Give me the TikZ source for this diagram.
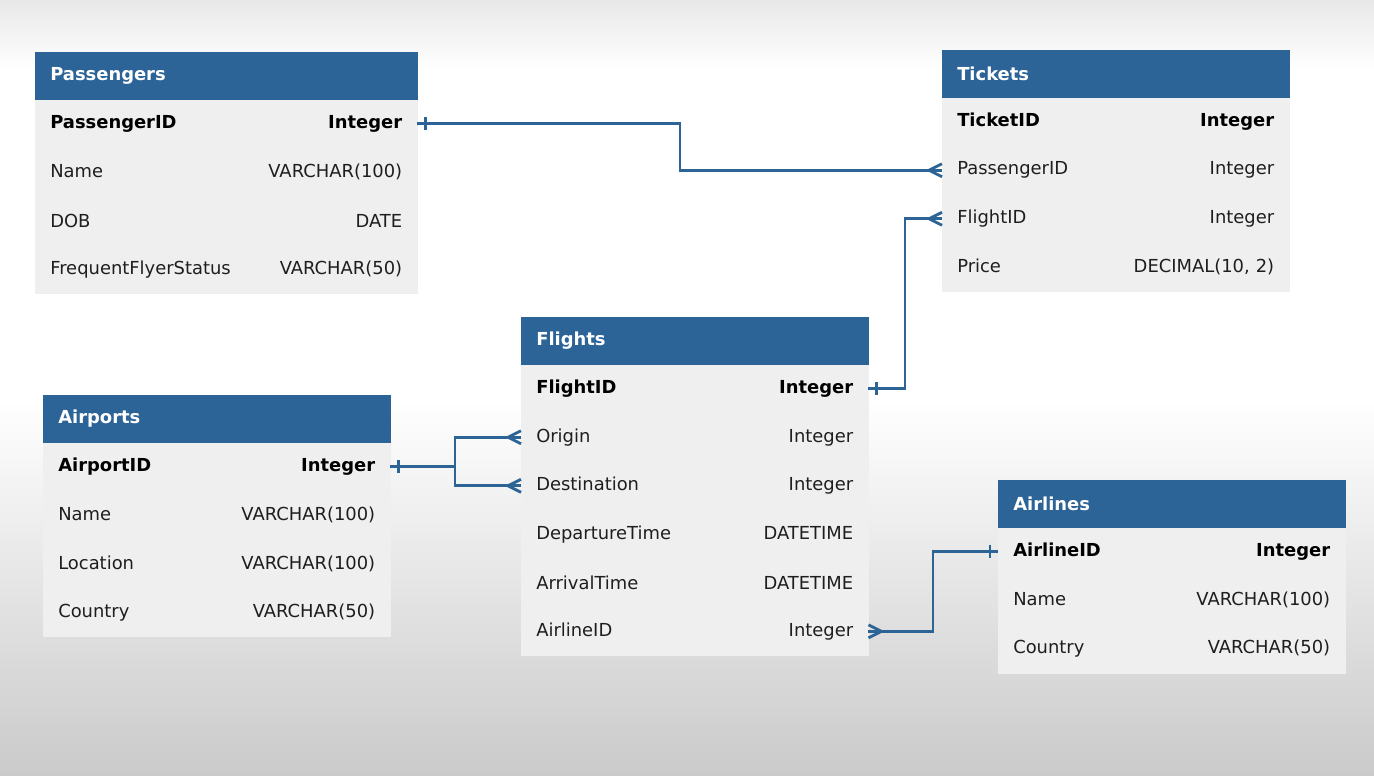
\documentclass[tikz,border=0pt]{standalone}
\usepackage{fontspec}
\setmainfont{DejaVu Sans}
\usetikzlibrary{positioning}
\definecolor{headblue}{HTML}{2D6497}
\definecolor{rowgray}{HTML}{EFEFEF}
\definecolor{linkblue}{HTML}{2C6495}
\definecolor{bgtop}{HTML}{E8E8E8}
\definecolor{bgbot}{HTML}{CACACA}
\definecolor{txt}{HTML}{1E1E1E}
\newcommand{\fld}[2]{\makebox[\linewidth]{#1\hfill#2}}
\newcommand{\keyfld}[2]{\makebox[\linewidth]{\bfseries\color{black}#1\hfill#2}}
%relationship ends: one (bar) and many (crow's foot)
\newcommand{\onemark}[2]{\draw[link] ([xshift=#2,yshift=0.13cm]#1) -- ([xshift=#2,yshift=-0.13cm]#1);}
\newcommand{\manymark}[2]{\draw[link] ([xshift=#2]#1) -- ([yshift=0.13cm]#1) ([xshift=#2]#1) -- ([yshift=-0.13cm]#1);}
\tikzset{
  tabhead/.style={fill=headblue, draw=headblue, line width=0.3pt, text=white, font=\fontsize{10.2}{12}\selectfont\bfseries,
    text width=#1, align=left, inner xsep=0.3cm, inner ysep=0pt, minimum height=0.94cm},
  tabrow/.style={fill=rowgray, draw=rowgray, line width=0.3pt, text=txt, font=\fontsize{10.2}{12}\selectfont,
    text width=#1, align=left, inner xsep=0.3cm, inner ysep=0pt, minimum height=0.96cm},
  link/.style={draw=linkblue, line width=1.6pt}
}

\begin{document}
\begin{tikzpicture}[x=0.02cm,y=-0.02cm]
    \fill[white] (0,0) rectangle (1374,776);
    \shade[top color=bgtop, bottom color=white] (0,0) rectangle (1374,70);
    \shade[top color=white, bottom color=bgbot] (0,400) rectangle (1374,776);
    % Passengers
    \node[tabhead=7.04cm, anchor=north west] (pass) at (35,52) {Passengers};
    \node[tabrow=7.04cm, below=0pt of pass] (pass-id) {\keyfld{PassengerID}{Integer}};
    \node[tabrow=7.04cm, below=0pt of pass-id] (pass-name) {\fld{Name}{VARCHAR(100)}};
    \node[tabrow=7.04cm, below=0pt of pass-name] (pass-dob) {\fld{DOB}{DATE}};
    \node[tabrow=7.04cm, below=0pt of pass-dob] (pass-ffs) {\fld{FrequentFlyerStatus}{VARCHAR(50)}};
    % Tickets
    \node[tabhead=6.34cm, anchor=north west] (tick) at (942,50) {Tickets};
    \node[tabrow=6.34cm, below=0pt of tick] (tick-id) {\keyfld{TicketID}{Integer}};
    \node[tabrow=6.34cm, below=0pt of tick-id] (tick-pid) {\fld{PassengerID}{Integer}};
    \node[tabrow=6.34cm, below=0pt of tick-pid] (tick-fid) {\fld{FlightID}{Integer}};
    \node[tabrow=6.34cm, below=0pt of tick-fid] (tick-price) {\fld{Price}{DECIMAL(10, 2)}};
    % Flights
    \node[tabhead=6.34cm, anchor=north west] (fl) at (521,317) {Flights};
    \node[tabrow=6.34cm, below=0pt of fl] (fl-id) {\keyfld{FlightID}{Integer}};
    \node[tabrow=6.34cm, below=0pt of fl-id] (fl-orig) {\fld{Origin}{Integer}};
    \node[tabrow=6.34cm, below=0pt of fl-orig] (fl-dest) {\fld{Destination}{Integer}};
    \node[tabrow=6.34cm, below=0pt of fl-dest] (fl-dep) {\fld{DepartureTime}{DATETIME}};
    \node[tabrow=6.34cm, below=0pt of fl-dep] (fl-arr) {\fld{ArrivalTime}{DATETIME}};
    \node[tabrow=6.34cm, below=0pt of fl-arr] (fl-aid) {\fld{AirlineID}{Integer}};
    % Airports
    \node[tabhead=6.34cm, anchor=north west] (port) at (43,395) {Airports};
    \node[tabrow=6.34cm, below=0pt of port] (port-id) {\keyfld{AirportID}{Integer}};
    \node[tabrow=6.34cm, below=0pt of port-id] (port-name) {\fld{Name}{VARCHAR(100)}};
    \node[tabrow=6.34cm, below=0pt of port-name] (port-loc) {\fld{Location}{VARCHAR(100)}};
    \node[tabrow=6.34cm, below=0pt of port-loc] (port-cty) {\fld{Country}{VARCHAR(50)}};
    % Airlines
    \node[tabhead=6.34cm, anchor=north west] (line) at (998,480) {Airlines};
    \node[tabrow=6.34cm, below=0pt of line] (line-id) {\keyfld{AirlineID}{Integer}};
    \node[tabrow=6.34cm, below=0pt of line-id] (line-name) {\fld{Name}{VARCHAR(100)}};
    \node[tabrow=6.34cm, below=0pt of line-name] (line-cty) {\fld{Country}{VARCHAR(50)}};
    % bends of the connectors
    \coordinate (bend1) at (680,0);
    \coordinate (bend2) at (905,0);
    \coordinate (bend3) at (455,0);
    \coordinate (bend4) at (933,0);
    \draw[link] (pass-id.east) -| (bend1 |- tick-pid.west) -- (tick-pid.west);
    \draw[link] (fl-id.east) -| (bend2 |- tick-fid.west) -- (tick-fid.west);
    \draw[link] (port-id.east) -| (bend3 |- fl-orig.west) -- (fl-orig.west);
    \draw[link] (bend3 |- port-id.east) |- (fl-dest.west);
    \draw[link] (fl-aid.east) -| (bend4 |- line-id.west) -- (line-id.west);
    \onemark{pass-id.east}{0.16cm}
    \onemark{fl-id.east}{0.16cm}
    \onemark{port-id.east}{0.16cm}
    \onemark{line-id.west}{-0.16cm}
    \manymark{tick-pid.west}{-0.26cm}
    \manymark{tick-fid.west}{-0.26cm}
    \manymark{fl-orig.west}{-0.26cm}
    \manymark{fl-dest.west}{-0.26cm}
    \manymark{fl-aid.east}{0.26cm}
\end{tikzpicture}
\end{document}
